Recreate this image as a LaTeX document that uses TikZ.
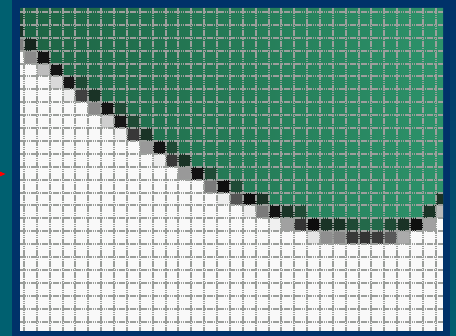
\documentclass[tikz,border=0pt]{standalone}
\usepackage{tikz}
\usetikzlibrary{arrows.meta}
\definecolor{sidestrip}{HTML}{006070}
\definecolor{frameblue}{HTML}{003269}
\definecolor{greenleft}{HTML}{1D6343}
\definecolor{greenright}{HTML}{2C926A}
\definecolor{edgeA}{HTML}{1A3326}
\definecolor{edgeB}{HTML}{1F4A35}
\definecolor{edgeC}{HTML}{1D4E37}
\definecolor{edgeK}{HTML}{16261E}
\definecolor{edgeM}{HTML}{23694A}
\definecolor{gridgray}{HTML}{9C9F9C}
\definecolor{paper}{HTML}{F9F9F9}

\begin{document}
\begin{tikzpicture}[
  x=1pt, y=-1pt,
  gridline/.style={gridgray, line width=2pt, dash pattern=on 1.6pt off 0.6pt},
  covered/.style={left color=greenleft, right color=greenright}
]
\useasboundingbox (0,0) rectangle (456,336);

% Side strips and dark frame.
\fill[sidestrip] (0,0) rectangle (456,336);
\fill[frameblue] (12,0) rectangle (450,336);
\shade[top color=frameblue, bottom color=sidestrip] (450,0) rectangle (456,336);

% Pixel raster, one unit per pixel.
\begin{scope}[xshift=24pt, yshift=-12pt, x=12.87pt, y=-12.9pt]
  \clip (-0.31,-0.31) rectangle (32.56,24.73);
  \fill[paper] (-0.31,-0.31) rectangle (32.56,24.73);

  % Covered pixels above the edge.
  \shade[covered] (-0.31,-0.31) -- (32.56,-0.31) -- (32.56,15) -- (32,15)
    -- (32,16) -- (30,16) -- (30,17) -- (23,17) -- (23,16) -- (20,16)
    -- (20,15) -- (18,15) -- (18,14) -- (16,14) -- (16,13) -- (14,13)
    -- (14,12) -- (12,12) -- (12,11) -- (11,11) -- (11,10) -- (9,10)
    -- (9,9) -- (8,9) -- (8,8) -- (7,8) -- (7,7) -- (5,7) -- (5,6)
    -- (4,6) -- (4,5) -- (3,5) -- (3,4) -- (2,4) -- (2,3) -- (1,3)
    -- (1,2) -- (-0.31,2) -- cycle;

  % Partly covered pixels along the edge.
  \foreach \px/\py/\tone in {
      -1/0/edgeC, -1/1/edgeA, -1/2/black!50, 0/2/edgeK,
      0/3/black!46, 1/3/black!92,
      1/4/black!26, 2/4/black!92,
      2/5/black!15, 3/5/black!91, 4/5/edgeB,
      3/6/black!7, 4/6/black!75, 5/6/edgeA,
      5/7/black!46, 6/7/black!92, 7/7/edgeB,
      6/8/black!19, 7/8/black!91, 8/8/edgeB,
      7/9/black!6, 8/9/black!78, 9/9/edgeA,
      9/10/black!40, 10/10/black!92, 11/10/edgeB,
      10/11/black!7, 11/11/black!78, 12/11/edgeA,
      12/12/black!40, 13/12/black!93, 14/12/edgeB,
      14/13/black!52, 15/13/black!94, 16/13/edgeB,
      15/14/black!7, 16/14/black!67, 17/14/black!95, 18/14/edgeA, 32/14/edgeA,
      17/15/black!7, 18/15/black!52, 19/15/black!93, 20/15/edgeA,
      21/15/edgeB, 31/15/edgeA, 32/15/black!27,
      19/16/black!6, 20/16/black!37, 21/16/black!80, 22/16/black!95,
      23/16/edgeA, 24/16/edgeA, 25/16/edgeB, 26/16/edgeM, 27/16/edgeM,
      28/16/edgeB, 29/16/edgeA, 30/16/black!94, 31/16/black!37,
      22/17/black!10, 23/17/black!44, 24/17/black!48, 25/17/black!78,
      26/17/black!80, 27/17/black!77, 28/17/black!65, 29/17/black!33}
    \fill[\tone] (\px,\py) rectangle ++(1,1);

  % Grid lines between pixels.
  \foreach \k in {0,...,32}
    \draw[gridline] (\k,-0.31) -- (\k,24.73);
  \foreach \k in {0,...,24}
    \draw[gridline] (-0.31,\k) -- (32.56,\k);
\end{scope}

% Red marker on the left edge.
\coordinate (marker) at (5.6,174);
\fill[red] (0,171.6) -- (marker) -- (0,176.4) -- cycle;
\end{tikzpicture}
\end{document}
